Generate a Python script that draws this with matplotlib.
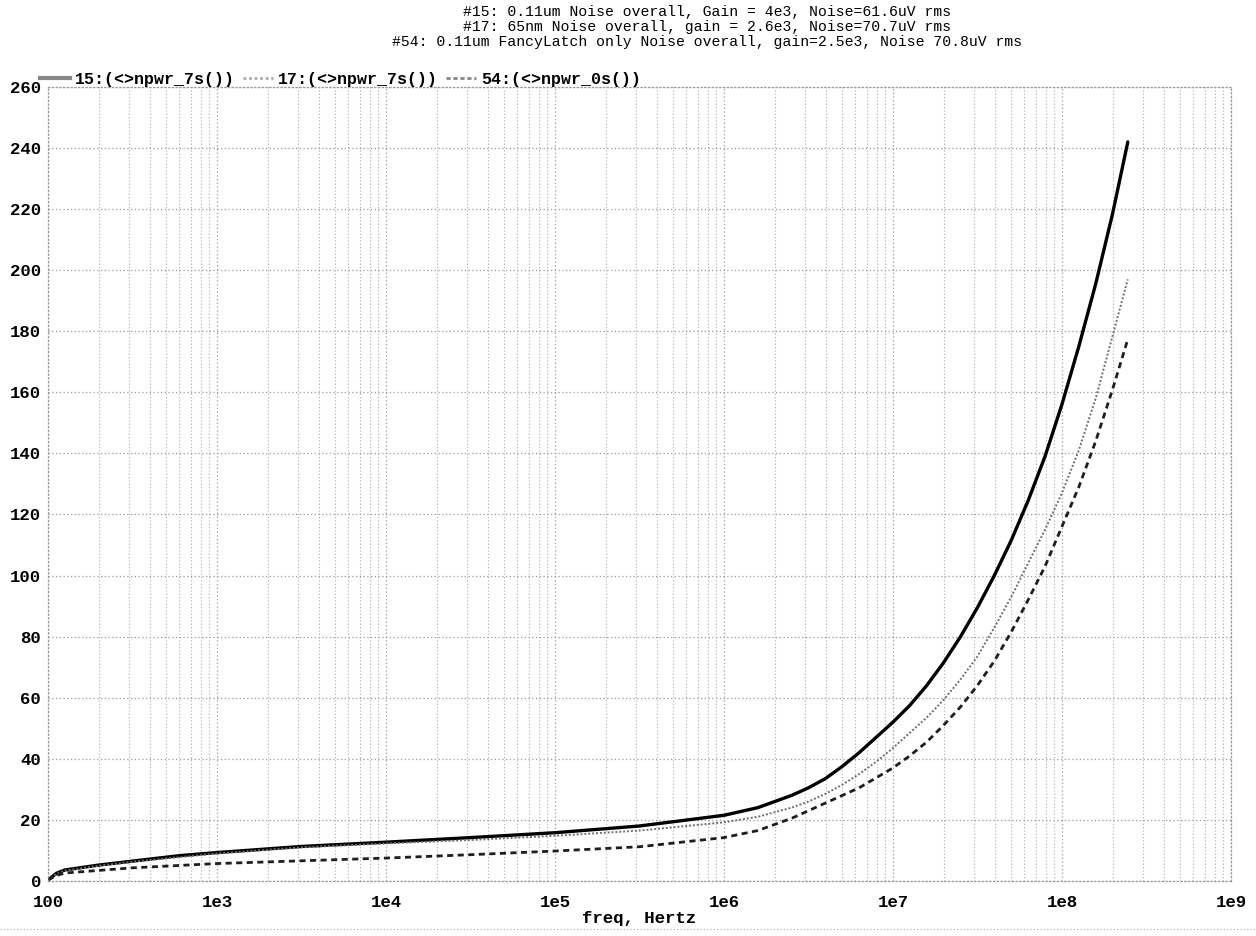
import matplotlib
matplotlib.use('Agg')
import matplotlib.pyplot as plt
from matplotlib.lines import Line2D
import numpy as np

# values: frequency as log10(Hz) decade position, noise value
logf_15 = [2.0, 2.05, 2.1, 2.3, 2.5, 2.78, 3.0, 3.5, 4.0, 4.5, 5.0, 5.5, 6.0, 6.2, 6.4,
           6.5, 6.6, 6.7, 6.8, 6.9, 7.0, 7.1, 7.2, 7.3, 7.4, 7.5, 7.6, 7.7, 7.8, 7.9,
           8.0, 8.1, 8.2, 8.3, 8.39]
val_15 = [0.3, 2.5, 3.6, 5.2, 6.5, 8.3, 9.3, 11.3, 12.7, 14.2, 15.8, 18.0, 21.5, 24.0,
          28.0, 30.5, 33.5, 37.5, 42.0, 47.0, 52.0, 57.5, 64.0, 71.5, 80.0, 89.5, 100.0,
          111.5, 124.5, 139.0, 156.0, 175.0, 195.5, 218.5, 242.0]

logf_17 = [2.0, 2.05, 2.1, 2.3, 2.5, 3.0, 3.5, 4.0, 4.5, 5.0, 5.5, 6.0, 6.2, 6.4, 6.5,
           6.6, 6.7, 6.8, 6.9, 7.0, 7.1, 7.2, 7.3, 7.4, 7.5, 7.6, 7.7, 7.8, 7.9, 8.0,
           8.1, 8.2, 8.3, 8.39]
val_17 = [0.3, 2.3, 3.4, 5.0, 6.3, 9.0, 11.0, 12.3, 13.4, 14.8, 16.5, 19.2, 21.0, 24.0,
          26.0, 28.5, 31.5, 35.0, 39.0, 43.5, 48.5, 53.5, 59.3, 66.0, 73.5, 83.0, 93.0,
          104.0, 115.0, 127.0, 141.0, 158.0, 178.5, 197.0]

logf_54 = [2.0, 2.05, 2.1, 2.5, 3.0, 3.5, 4.0, 4.5, 5.0, 5.5, 6.0, 6.2, 6.4, 6.6, 6.8,
           7.0, 7.1, 7.2, 7.3, 7.4, 7.5, 7.6, 7.7, 7.8, 7.9, 8.0, 8.1, 8.2, 8.3, 8.39]
val_54 = [0.3, 1.8, 2.6, 4.3, 5.7, 6.6, 7.5, 8.6, 9.8, 11.2, 14.2, 16.5, 20.5, 25.5,
          30.5, 37.0, 41.0, 45.5, 51.0, 57.0, 64.0, 72.0, 81.5, 92.0, 103.0, 116.0,
          129.0, 144.0, 161.0, 177.4]

labels = ['15:(<>npwr_7s())', '17:(<>npwr_7s())', '54:(<>npwr_0s())']
title_lines = ['#15: 0.11um Noise overall, Gain = 4e3, Noise=61.6uV rms',
               '#17: 65nm Noise overall, gain = 2.6e3, Noise=70.7uV rms',
               '#54: 0.11um FancyLatch only Noise overall, gain=2.5e3, Noise 70.8uV rms']
x_ticks = [1e2, 1e3, 1e4, 1e5, 1e6, 1e7, 1e8, 1e9]
x_ticklabels = ['100', '1e3', '1e4', '1e5', '1e6', '1e7', '1e8', '1e9']
y_ticks = list(range(0, 261, 20))

mono = ['Nimbus Mono PS', 'Courier New', 'Liberation Mono']

fig = plt.figure(figsize=(12.56, 9.36), dpi=100)
ax = fig.add_axes([0.0382, 0.0588, 0.9418, 0.8483])

ax.plot(np.power(10.0, logf_15), val_15, color='black', lw=2.4, solid_capstyle='round')
ax.plot(np.power(10.0, logf_17), val_17, color='#6e6e6e', lw=1.4, ls=(0, (1, 1)))
ax.plot(np.power(10.0, logf_54), val_54, color='#1e1e1e', lw=2.0, ls=(0, (2.2, 1.6)))

ax.set_xscale('log')
ax.set_xlim(1e2, 1e9)
ax.set_ylim(0, 260)
ax.set_xticks(x_ticks)
ax.set_xticklabels(x_ticklabels)
ax.set_yticks(y_ticks)
ax.tick_params(which='both', length=0, labelsize=12.5)
ax.tick_params(axis='x', pad=10)
ax.tick_params(axis='y', pad=5)
for lab in ax.get_xticklabels() + ax.get_yticklabels():
    lab.set_family(mono)
    lab.set_fontweight('bold')

ax.grid(True, which='major', color='#999999', ls=(0, (1, 2)), lw=0.9)
ax.grid(True, which='minor', axis='x', color='#aaaaaa', ls=(0, (1, 2)), lw=0.8)
for sp in ax.spines.values():
    sp.set_color('#999999')
    sp.set_linestyle((0, (1, 2)))
    sp.set_linewidth(0.9)

ax.set_xlabel('freq, Hertz', family=mono, fontsize=12.5, fontweight='bold', labelpad=1)

# titles
for i, line in enumerate(title_lines):
    fig.text(0.563, 1 - (12 + 15 * i) / 936, line, ha='center', va='center',
             family=mono, fontsize=10.6)

# legend
handles = [Line2D([], [], color='#888888', lw=3),
           Line2D([], [], color='#aaaaaa', lw=2, ls=(0, (1, 1))),
           Line2D([], [], color='#888888', lw=2, ls=(0, (1.5, 1)))]
leg = ax.legend(handles, labels, loc='lower left', bbox_to_anchor=(-0.007, 1.0),
                ncol=3, frameon=False, handlelength=1.8, handletextpad=0.3,
                columnspacing=0.5, borderaxespad=0, borderpad=0,
                prop={'family': mono, 'size': 12, 'weight': 'bold'})

# dotted border line at the bottom of the figure
fig.add_artist(Line2D([0, 1], [1 - 929 / 936] * 2, color='#aaaaaa', lw=0.8,
                      ls=(0, (1, 2)), transform=fig.transFigure))

fig.savefig('out.png', dpi=100)
